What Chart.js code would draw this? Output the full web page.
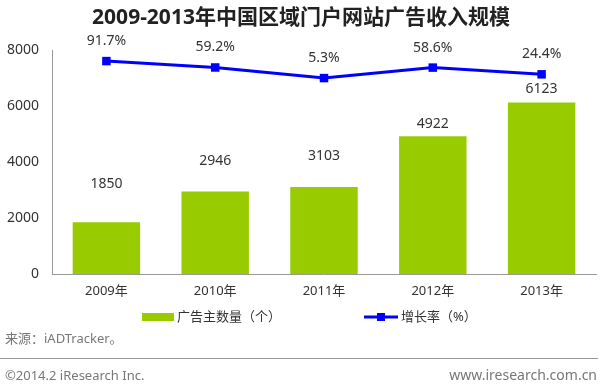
<!DOCTYPE html>
<html>
<head>
<meta charset="utf-8">
<script src="https://cdn.jsdelivr.net/npm/chart.js@4/dist/chart.umd.min.js"></script>
<style>
  html, body { margin: 0; padding: 0; background: #fff; }
  #wrap { position: relative; width: 602px; height: 386px; }
</style>
</head>
<body>
<div id="wrap"><canvas id="chart" width="602" height="386"></canvas></div>
<script>
const years = ['2009年', '2010年', '2011年', '2012年', '2013年'];
const advertisers = [1850, 2946, 3103, 4922, 6123];
const growth = [91.7, 59.2, 5.3, 58.6, 24.4];
const yTicks = [0, 2000, 4000, 6000, 8000];

const FONT = '"Noto Sans", "Noto Sans CJK SC", sans-serif';
const GREEN = '#99cc00';
const BLUE = '#0000ff';

// label offsets above the bar top (px), as placed in the original
const barLabelOffset = [38, 30, 31, 12, 14];

const overlay = {
  id: 'overlay',
  afterDatasetsDraw(chart) {
    const ctx = chart.ctx;
    ctx.save();
    ctx.fillStyle = '#333';
    ctx.font = '14px ' + FONT;
    ctx.textAlign = 'center';
    ctx.textBaseline = 'middle';
    chart.getDatasetMeta(0).data.forEach((bar, i) => {
      ctx.fillText(String(advertisers[i]), bar.x, bar.y - barLabelOffset[i]);
    });
    chart.getDatasetMeta(1).data.forEach((pt, i) => {
      ctx.fillText(growth[i].toFixed(1) + '%', pt.x, pt.y - 20);
    });
    ctx.restore();
  },
  afterDraw(chart) {
    const ctx = chart.ctx;
    ctx.save();
    // title
    ctx.fillStyle = '#222';
    ctx.font = 'bold 21px ' + FONT;
    ctx.textAlign = 'center';
    ctx.textBaseline = 'middle';
    ctx.fillText('2009-2013年中国区域门户网站广告收入规模', 301, 18);

    // legend
    ctx.font = '13px ' + FONT;
    ctx.textAlign = 'left';
    ctx.fillStyle = GREEN;
    ctx.fillRect(142, 313, 32, 8);
    ctx.fillStyle = '#333';
    ctx.fillText('广告主数量（个）', 177, 317);
    ctx.strokeStyle = BLUE;
    ctx.lineWidth = 3;
    ctx.beginPath();
    ctx.moveTo(364, 317);
    ctx.lineTo(398, 317);
    ctx.stroke();
    ctx.fillStyle = BLUE;
    ctx.fillRect(377, 313, 8, 8);
    ctx.fillStyle = '#333';
    ctx.fillText('增长率（%）', 401, 317);

    // source and footer
    ctx.fillStyle = '#777';
    ctx.font = '13px ' + FONT;
    ctx.fillText('来源：iADTracker。', 5, 339);
    ctx.strokeStyle = '#999';
    ctx.lineWidth = 1;
    ctx.beginPath();
    ctx.moveTo(0, 358.5);
    ctx.lineTo(598, 358.5);
    ctx.stroke();
    ctx.fillText('©2014.2 iResearch Inc.', 5, 376);
    ctx.textAlign = 'right';
    ctx.font = '14px ' + FONT;
    ctx.fillText('www.iresearch.com.cn', 597, 376);
    ctx.restore();
  }
};

new Chart(document.getElementById('chart'), {
  type: 'bar',
  data: {
    labels: years,
    datasets: [
      {
        type: 'bar',
        label: '广告主数量（个）',
        data: advertisers,
        backgroundColor: GREEN,
        categoryPercentage: 1,
        barPercentage: 0.62,
        yAxisID: 'y',
        order: 1
      },
      {
        type: 'line',
        label: '增长率（%）',
        data: growth,
        borderColor: BLUE,
        backgroundColor: BLUE,
        borderWidth: 3,
        pointStyle: 'rect',
        pointRadius: 6,
        pointBorderWidth: 0,
        tension: 0,
        yAxisID: 'y1',
        order: 0
      }
    ]
  },
  options: {
    responsive: false,
    animation: false,
    layout: { padding: { top: 50, right: 0, bottom: 82, left: 0 } },
    plugins: {
      legend: { display: false },
      tooltip: { enabled: false }
    },
    scales: {
      x: {
        offset: true,
        grid: { display: false, drawTicks: false },
        border: { color: '#999', width: 1 },
        ticks: { color: '#333', font: { size: 13, family: FONT }, padding: 9 },
        afterFit: (s) => { s.height = 30; }
      },
      y: {
        min: 0,
        max: 8000,
        afterBuildTicks: (s) => { s.ticks = yTicks.map(v => ({ value: v })); },
        grid: { display: false, drawTicks: false },
        border: { color: '#999', width: 1 },
        ticks: {
          color: '#333',
          font: { size: 14, family: FONT },
          padding: 13,
          callback: (v) => String(v)
        },
        afterFit: (s) => { s.width = 52; }
      },
      y1: {
        display: false,
        min: -990,
        max: 148
      }
    }
  },
  plugins: [overlay]
});
</script>
</body>
</html>
